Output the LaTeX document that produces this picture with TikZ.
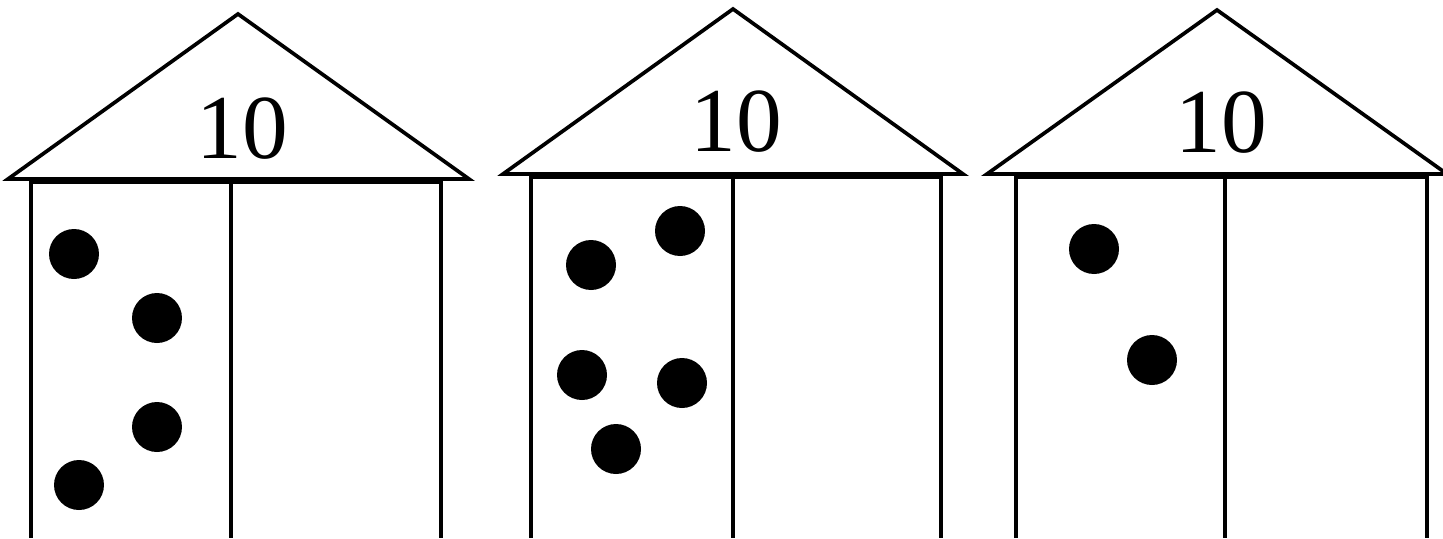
\documentclass[tikz,border=0pt]{standalone}
\usepackage{fontspec}
\setmainfont{Liberation Serif}
\usetikzlibrary{positioning}

\tikzset{
  wall/.style={line width=2.1pt},
  roof/.style={line width=2.1pt},
  num/.style={inner sep=0pt, font=\fontsize{52}{58}\selectfont},
  dot/.style={circle, fill=black, inner sep=0pt, minimum size=1cm}
}

\begin{document}
\begin{tikzpicture}[x=0.02cm, y=-0.02cm]
        \useasboundingbox (0,0) rectangle (1443,538);
        % first house
        \draw[roof] (8,179) -- (238,14) -- (469,179) -- cycle;
        \draw[wall] (31,538) -- (31,182) -- (441,182) -- (441,538);
        \draw[wall] (231,182) -- (231,538);
        \node[num] (tenA) at (242.5,128.5) {10};
        \foreach \p [count=\i] in {(74,254),(157,318),(157,427),(79,485)}
            \node[dot] (a\i) at \p {};
        % second house
        \draw[roof] (503,174) -- (733,9) -- (963,174) -- cycle;
        \draw[wall] (531,538) -- (531,177) -- (941,177) -- (941,538);
        \draw[wall] (733,177) -- (733,538);
        \node[num] (tenB) at (736.5,122) {10};
        \foreach \p [count=\i] in {(591,265),(680,231),(582,375),(682,383),(616,449)}
            \node[dot] (b\i) at \p {};
        % third house
        \draw[roof] (987,174) -- (1217,10) -- (1447,174) -- cycle;
        \draw[wall] (1016,538) -- (1016,177) -- (1427,177) -- (1427,538);
        \draw[wall] (1225,177) -- (1225,538);
        \node[num] (tenC) at (1221,123) {10};
        \foreach \p [count=\i] in {(1094,249),(1152,360)}
            \node[dot] (c\i) at \p {};
    \end{tikzpicture}
\end{document}
